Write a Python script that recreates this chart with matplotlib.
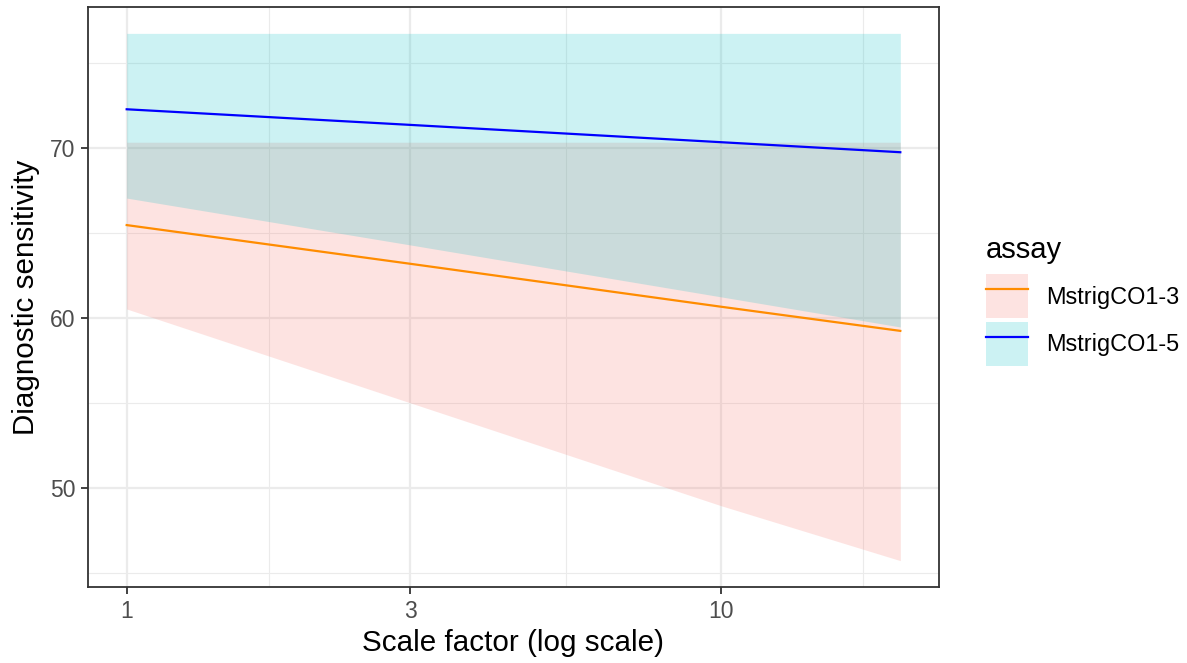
import numpy as np
import matplotlib
matplotlib.use("Agg")
import matplotlib.pyplot as plt
from matplotlib.patches import Patch
from matplotlib.lines import Line2D
from matplotlib.legend_handler import HandlerTuple
from matplotlib.ticker import FixedLocator, NullFormatter

plt.rcParams['font.family'] = ['Liberation Sans', 'DejaVu Sans']

# data
scale = [1, 3, 10, 20]
assays = ["MstrigCO1-3", "MstrigCO1-5"]
sens_co13 = [65.47, 63.19, 60.66, 59.24]
lower_co13 = [60.53, 55.0, 48.94, 45.71]
upper_co13 = [70.35, 70.35, 70.35, 70.35]
sens_co15 = [72.29, 71.37, 70.35, 69.76]
lower_co15 = [67.06, 64.3, 61.24, 59.47]
upper_co15 = [76.76, 76.76, 76.76, 76.76]

x_breaks = [1, 3, 10]
y_breaks = [50, 60, 70]

line_cols = ["darkorange", "blue"]
fill_cols = ["#F8766D", "#00BFC4"]

fig = plt.figure(figsize=(11.87, 6.63), dpi=100)
ax = fig.add_axes([88 / 1187, 76 / 663, 851 / 1187, 580 / 663])

series = [
    (sens_co13, lower_co13, upper_co13),
    (sens_co15, lower_co15, upper_co15),
]
handles = []
for (mid, lo, hi), lc, fc, name in zip(series, line_cols, fill_cols, assays):
    ax.fill_between(scale, lo, hi, color=fc, alpha=0.2, linewidth=0, zorder=2)
    ax.plot(scale, mid, color=lc, lw=1.6, zorder=3)
    handles.append((Patch(facecolor=fc, alpha=0.2, edgecolor='none'),
                    Line2D([], [], color=lc, lw=1.6)))

ax.set_xscale('log')
# ggplot-style 5% expansion
lx = np.log10([min(scale), max(scale)])
ex = (lx[1] - lx[0]) * 0.05
ax.set_xlim(10 ** (lx[0] - ex), 10 ** (lx[1] + ex))
ymin = min(lower_co13 + lower_co15)
ymax = max(upper_co13 + upper_co15)
ey = (ymax - ymin) * 0.05
ax.set_ylim(ymin - ey, ymax + ey)

ax.xaxis.set_major_locator(FixedLocator(x_breaks))
ax.set_xticklabels([str(b) for b in x_breaks])
ax.xaxis.set_minor_locator(FixedLocator([np.sqrt(3), np.sqrt(30), np.sqrt(300)]))
ax.xaxis.set_minor_formatter(NullFormatter())
ax.yaxis.set_major_locator(FixedLocator(y_breaks))
ax.yaxis.set_minor_locator(FixedLocator([45, 55, 65, 75]))

ax.grid(which='major', color='#EBEBEB', lw=1.6, zorder=0)
ax.grid(which='minor', color='#EBEBEB', lw=0.8, zorder=0)
ax.set_axisbelow(True)
ax.tick_params(which='major', length=5, width=1.3, color='#333333',
               labelsize=16.5, labelcolor='#4D4D4D', pad=4)
ax.tick_params(which='minor', length=0)
for s in ax.spines.values():
    s.set_color('#333333')
    s.set_linewidth(1.3)

ax.set_xlabel('Scale factor (log scale)', fontsize=21.3, labelpad=5)
ax.set_ylabel('Diagnostic sensitivity', fontsize=21.3, labelpad=7)

leg = fig.legend(handles, assays, handler_map={tuple: HandlerTuple(ndivide=1)},
                 title='assay', loc='upper left',
                 bbox_to_anchor=(986 / 1187, 1 - 236 / 663),
                 frameon=False, fontsize=16.9, title_fontsize=21,
                 handlelength=1.8, handleheight=2.5, handletextpad=0.75,
                 labelspacing=0.17, borderpad=0, borderaxespad=0,
                 alignment='left')
# a bit more room between the title and the keys, like ggplot
leg._legend_box.sep = 7.5

fig.savefig('out.png', dpi=100)
